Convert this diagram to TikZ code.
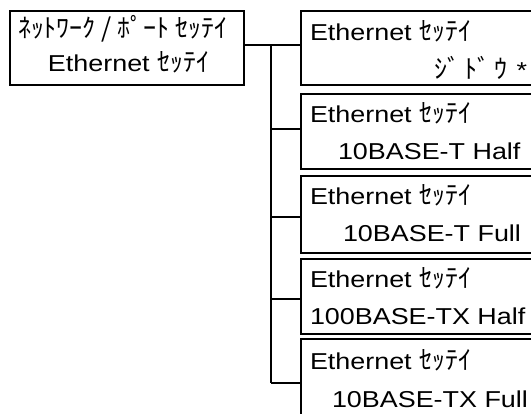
\documentclass[tikz,border=0pt]{standalone}
\usepackage{fontspec}
\setmainfont{Liberation Sans}[FakeStretch=1.17]
\newfontfamily\kanaface{Noto Sans CJK JP}
\newcommand{\kana}{\kanaface\fontsize{26pt}{30pt}\selectfont}
\newcommand{\kfs}{\fontsize{23pt}{27pt}\selectfont}
\begin{document}
\begin{tikzpicture}[x=1pt,y=-1pt,
  box/.style={draw, line width=2pt, inner sep=0pt, outer sep=0pt, anchor=north west},
  txt/.style={anchor=base west, inner sep=0pt, outer sep=0pt, font=\kfs},
  conn/.style={line width=2pt}]
\clip (0,0) rectangle (531,414);
% boxes
\node[box, minimum width=234.5pt, minimum height=74pt] (L) at (9.5,11) {};
\node[box, minimum width=250pt, minimum height=74pt] (b1) at (301,11) {};
\node[box, minimum width=250pt, minimum height=75pt] (b2) at (301,94) {};
\node[box, minimum width=250pt, minimum height=77pt] (b3) at (301,176) {};
\node[box, minimum width=250pt, minimum height=75pt] (b4) at (301,259) {};
\node[box, minimum width=250pt, minimum height=82pt] (b5) at (301,339) {};
% texts
\node[txt] (l1) at (18,38) {\kana ﾈｯﾄﾜｰｸ / ﾎﾟｰﾄ ｾｯﾃｲ};
\node[txt] (l2) at (48,72) {Ethernet {\kana ｾｯﾃｲ}};
\node[txt] (r1a) at (310,41) {Ethernet {\kana ｾｯﾃｲ}};
\node[txt, anchor=base east] (r1b) at (527,79) {{\kana ｼﾞ\hspace{4pt}ﾄﾞ\hspace{4pt}ｳ}\hspace{9pt}*};
\node[txt] (r2a) at (310,123) {Ethernet {\kana ｾｯﾃｲ}};
\node[txt] (r2b) at (338,160) {10BASE-T Half};
\node[txt] (r3a) at (310,205) {Ethernet {\kana ｾｯﾃｲ}};
\node[txt] (r3b) at (343,242) {10BASE-T Full};
\node[txt] (r4a) at (310,288) {Ethernet {\kana ｾｯﾃｲ}};
\node[txt] (r4b) at (310,325) {100BASE-TX Half};
\node[txt] (r5a) at (310,370) {Ethernet {\kana ｾｯﾃｲ}};
\node[txt] (r5b) at (332,408) {10BASE-TX Full};
% connectors
\coordinate (t1) at (271,45);
\coordinate (t2) at (271,129);
\coordinate (t3) at (271,217);
\coordinate (t4) at (271,299);
\coordinate (t5) at (271,383);
\draw[conn] (L.east |- t1) -- (b1.west |- t1);
\draw[conn] (t1) -- (t5);
\draw[conn] (t2) -- (b2.west |- t2);
\draw[conn] (t3) -- (b3.west |- t3);
\draw[conn] (t4) -- (b4.west |- t4);
\draw[conn] (t5) -- (b5.west |- t5);
\end{tikzpicture}
\end{document}
